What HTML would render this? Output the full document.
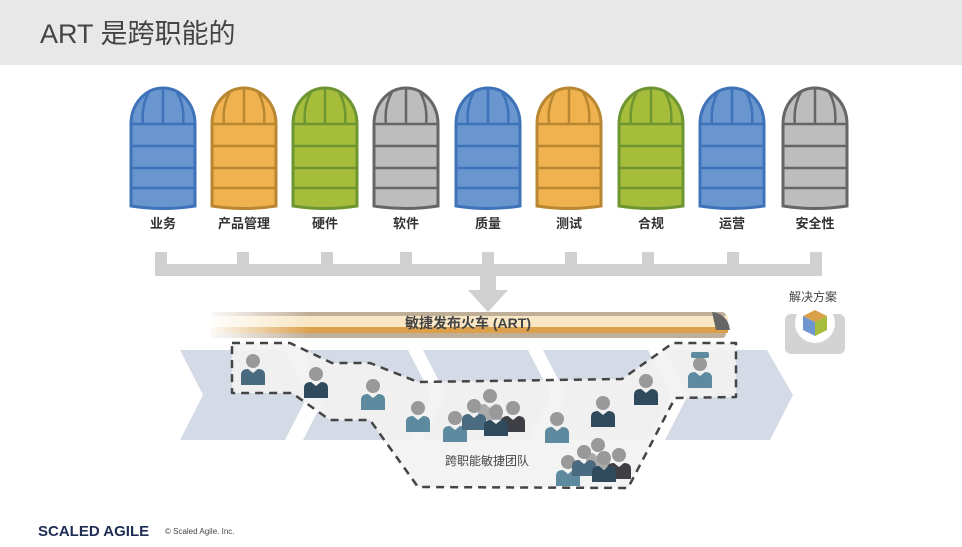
<!DOCTYPE html>
<html><head><meta charset="utf-8"><style>
html,body{margin:0;padding:0;background:#fff}
body{width:962px;height:547px;overflow:hidden;position:relative;font-family:"Liberation Sans","Noto Sans CJK SC",sans-serif}
.hdr{position:absolute;left:0;top:0;width:962px;height:65px;background:#e8e8e8}
.title{position:absolute;left:40px;top:12px;font-size:27px;color:#444}
</style></head><body>
<div class="hdr"></div>
<div class="title">ART 是跨职能的</div>
<svg width="962" height="547" style="position:absolute;left:0;top:0" font-family="Liberation Sans, Noto Sans CJK SC, sans-serif">
<defs>
<g id="silo">
  <path d="M-32,118 L-32,36 A32,36 0 0 1 32,36 L32,118 Q0,123 -32,118 Z" stroke-width="3"/>
  <path d="M-31,36 H31 M-31,58 H31 M-31,80 H31 M-31,100 H31 M0,0 V36 M-14,4 Q-22,18 -20,36 M14,4 Q22,18 20,36" fill="none" stroke-width="2.5"/>
</g>
<linearGradient id="fadeL" x1="0" x2="1"><stop offset="0" stop-color="#fff" stop-opacity="1"/><stop offset="0.2" stop-color="#fff" stop-opacity="0"/></linearGradient>
<g id="p"><circle cx="0" cy="0" r="7" fill="#999"/><path d="M-12,24 V14 Q-12,8 -5,8 L0,12 L5,8 Q12,8 12,14 V24 Z"/></g>
</defs>
<g transform="translate(0,88)">
 <use href="#silo" x="163" fill="#6996cf" stroke="#3e72b9"/>
 <use href="#silo" x="244" fill="#f0b24f" stroke="#b98731"/>
 <use href="#silo" x="325" fill="#a6bd3b" stroke="#6d9632"/>
 <use href="#silo" x="406" fill="#bdbdbd" stroke="#666"/>
 <use href="#silo" x="488" fill="#6996cf" stroke="#3e72b9"/>
 <use href="#silo" x="569" fill="#f0b24f" stroke="#b98731"/>
 <use href="#silo" x="651" fill="#a6bd3b" stroke="#6d9632"/>
 <use href="#silo" x="732" fill="#6996cf" stroke="#3e72b9"/>
 <use href="#silo" x="815" fill="#bdbdbd" stroke="#666"/>
</g>
<g font-size="13" font-weight="bold" fill="#333" text-anchor="middle">
 <text x="163" y="228">业务</text><text x="244" y="228">产品管理</text><text x="325" y="228">硬件</text>
 <text x="406" y="228">软件</text><text x="488" y="228">质量</text><text x="569" y="228">测试</text>
 <text x="651" y="228">合规</text><text x="732" y="228">运营</text><text x="815" y="228">安全性</text>
</g>
<g fill="#d0d0d0">
 <rect x="155" y="264" width="667" height="12"/>
 <rect x="155" y="252" width="12" height="14"/><rect x="237" y="252" width="12" height="14"/><rect x="321" y="252" width="12" height="14"/>
 <rect x="400" y="252" width="12" height="14"/><rect x="482" y="252" width="12" height="14"/><rect x="565" y="252" width="12" height="14"/>
 <rect x="642" y="252" width="12" height="14"/><rect x="727" y="252" width="12" height="14"/><rect x="810" y="252" width="12" height="14"/>
 <rect x="480" y="270" width="16" height="22"/>
 <polygon points="468,290 508,290 488,312"/>
</g>
<g fill="#d4dbe7">
 <polygon points="180,350 285,350 308,395 285,440 180,440 203,395"/>
 <polygon points="303,350 408,350 431,395 408,440 303,440 326,395"/>
 <polygon points="423,350 528,350 551,395 528,440 423,440 446,395"/>
 <polygon points="543,350 648,350 671,395 648,440 543,440 566,395"/>
 <polygon points="665,350 767,350 793,395 770,440 665,440 688,395"/>
</g>
<g>
 <rect x="210" y="312" width="516" height="26" rx="4" fill="#bfae98"/>
 <rect x="210" y="316" width="518" height="11" fill="#f8e6c4"/>
 <rect x="210" y="327" width="518" height="6" fill="#dca04a"/>
 <path d="M712,312 Q728,314 730,330 L716,330 Z" fill="#666"/>
 <rect x="205" y="310" width="530" height="30" fill="url(#fadeL)"/>
 <text x="468" y="328" font-size="14" font-weight="bold" fill="#444" text-anchor="middle">敏捷发布火车 (ART)</text>
</g>
<polygon points="232,343 290,343 332,363 370,363 418,382 622,379 673,343 736,343 736,397 675,398 628,488 418,487 370,420 330,420 292,393 232,393" fill="#f2f2f2" fill-opacity="0.92" stroke="#444" stroke-width="2.5" stroke-dasharray="8,6" stroke-linejoin="round"/>
<text x="487" y="465" font-size="12" fill="#444" text-anchor="middle">跨职能敏捷团队</text>
<use href="#p" x="253" y="361" fill="#4a6a80"/>
<use href="#p" x="316" y="374" fill="#2f4a5c"/>
<use href="#p" x="373" y="386" fill="#5e8aa0"/>
<use href="#p" x="418" y="408" fill="#5e8aa0"/>
<use href="#p" x="490" y="396" fill="#aaa"/>
<use href="#p" x="455" y="418" fill="#5e8aa0"/>
<use href="#p" x="474" y="406" fill="#4a6a80"/>
<use href="#p" x="513" y="408" fill="#3d3f44"/>
<use href="#p" x="496" y="412" fill="#2f4a5c"/>
<use href="#p" x="557" y="419" fill="#5e8aa0"/>
<use href="#p" x="603" y="403" fill="#2f4a5c"/>
<use href="#p" x="646" y="381" fill="#2f4a5c"/>
<use href="#p" x="700" y="364" fill="#5e8aa0"/>
<rect x="691" y="352" width="18" height="6" rx="2" fill="#5e8aa0"/>
<use href="#p" x="598" y="445" fill="#aaa"/>
<use href="#p" x="568" y="462" fill="#5e8aa0"/>
<use href="#p" x="584" y="452" fill="#4a6a80"/>
<use href="#p" x="619" y="455" fill="#3d3f44"/>
<use href="#p" x="604" y="458" fill="#2f4a5c"/>
<text x="813" y="301" font-size="12" fill="#444" text-anchor="middle">解决方案</text>
<rect x="785" y="314" width="60" height="40" rx="6" fill="#d3d3d3"/>
<circle cx="815" cy="323" r="20" fill="#fff"/>
<polygon points="815,310 827,316 815,322 803,316" fill="#d9a04a"/>
<polygon points="803,316 815,322 815,336 803,330" fill="#7096cf"/>
<polygon points="827,316 815,322 815,336 827,330" fill="#a6bd3b"/>
<text x="38" y="536" font-size="15" font-weight="bold" fill="#1f2d55">SCALED AGILE</text>
<text x="165" y="534" font-size="8" fill="#444">© Scaled Agile. Inc.</text>
</svg>
</body></html>
